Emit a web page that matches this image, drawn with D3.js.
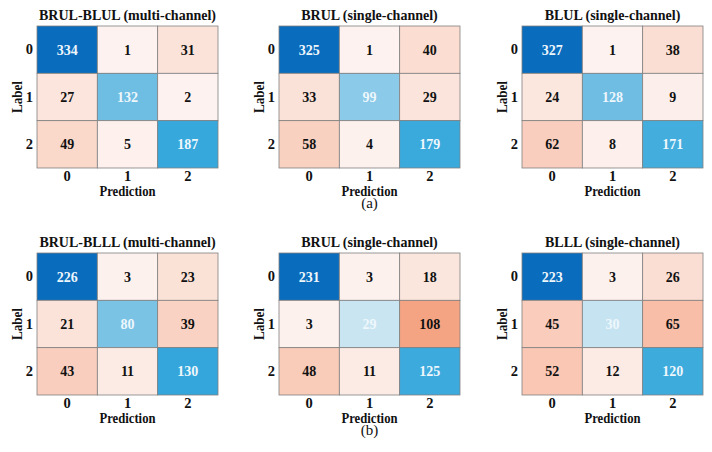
<!DOCTYPE html>
<html>
<head>
<meta charset="utf-8">
<script src="https://cdn.jsdelivr.net/npm/d3@7"></script>
<style>
  body { margin: 0; background: #fff; }
</style>
</head>
<body>
<svg id="chart" width="712" height="452"></svg>
<script>
// Data
var classes = ["0", "1", "2"];
var titles = [
  "BRUL-BLUL (multi-channel)", "BRUL (single-channel)", "BLUL (single-channel)",
  "BRUL-BLLL (multi-channel)", "BRUL (single-channel)", "BLLL (single-channel)"
];
var cm_brul_blul = [[334, 1, 31], [27, 132, 2], [49, 5, 187]];
var cm_brul_a   = [[325, 1, 40], [33, 99, 29], [58, 4, 179]];
var cm_blul     = [[327, 1, 38], [24, 128, 9], [62, 8, 171]];
var cm_brul_blll = [[226, 3, 23], [21, 80, 39], [43, 11, 130]];
var cm_brul_b   = [[231, 3, 18], [3, 29, 108], [48, 11, 125]];
var cm_blll     = [[223, 3, 26], [45, 30, 65], [52, 12, 120]];
var matrices = [cm_brul_blul, cm_brul_a, cm_blul, cm_brul_blll, cm_brul_b, cm_blll];
var rowCaptions = ["(a)", "(b)"];

const svg = d3.select("#chart");
const serif = '"Liberation Serif"';

// Layout
var lefts = [37, 279, 522];
var tops = [26, 253];
var gw = 181, gh = 142;

// colours: diagonal blue, off-diagonal red, by value / panel max
const blue = d3.scaleLinear()
  .domain([0, 0.13, 0.3, 0.4, 0.56, 1])
  .range(["#f3f9fc", "#c8e4f1", "#8ccbe8", "#6cbce2", "#37a8dc", "#0a6cbd"])
  .clamp(true);
const red = d3.scaleLinear()
  .domain([0, 0.1, 0.2, 0.47])
  .range(["#fdf3f1", "#fbe2d8", "#f9ccbb", "#f5a482"])
  .clamp(true);

function label(sel, size, bold) {
  return sel
    .attr("font-family", serif)
    .attr("font-size", size)
    .attr("font-weight", bold ? "bold" : "normal")
    .attr("fill", "#111");
}

matrices.forEach(function(m, k) {
  var col = k % 3, row = Math.floor(k / 3);
  var g = svg.append("g")
    .attr("transform", `translate(${lefts[col]},${tops[row]})`);

  var x = d3.scaleBand().domain(classes).range([0, gw]);
  var y = d3.scaleBand().domain(classes).range([0, gh]);
  var maxV = d3.max(m.flat());

  var cells = [];
  m.forEach(function(r, i) {
    r.forEach(function(v, j) {
      cells.push({ i: classes[i], j: classes[j], v: v, diag: i === j });
    });
  });

  g.selectAll("rect")
    .data(cells)
    .enter()
    .append("rect")
    .attr("x", d => x(d.j))
    .attr("y", d => y(d.i))
    .attr("width", x.bandwidth())
    .attr("height", y.bandwidth())
    .attr("fill", d => d.diag ? blue(d.v / maxV) : red(d.v / maxV))
    .attr("stroke", "#808080")
    .attr("stroke-width", 0.8);

  g.selectAll("text.val")
    .data(cells)
    .enter()
    .append("text")
    .attr("class", "val")
    .attr("x", d => x(d.j) + x.bandwidth() / 2)
    .attr("y", d => y(d.i) + y.bandwidth() / 2 + 5)
    .attr("text-anchor", "middle")
    .call(label, 14, true)
    .attr("fill", d => d.diag ? "#eef7fc" : "#111")
    .text(d => d.v);

  // axes
  var xAxis = g.append("g")
    .attr("transform", `translate(0,${gh})`)
    .call(d3.axisBottom(x).tickSize(0).tickPadding(3));
  var yAxis = g.append("g")
    .call(d3.axisLeft(y).tickSize(0).tickPadding(4));
  [xAxis, yAxis].forEach(function(a) {
    a.attr("font-family", serif).attr("font-size", 14);
    a.select(".domain").remove();
    a.selectAll("text").call(label, 14.5, true);
  });

  g.append("text")
    .attr("x", gw / 2)
    .attr("y", -6)
    .attr("text-anchor", "middle")
    .call(label, 14, true)
    .text(titles[k]);

  g.append("text")
    .attr("x", gw / 2)
    .attr("y", gh + 28)
    .attr("text-anchor", "middle")
    .call(label, 14.5, true)
    .attr("textLength", 56)
    .attr("lengthAdjust", "spacingAndGlyphs")
    .text("Prediction");

  g.append("text")
    .attr("transform", `translate(-15,${gh / 2}) rotate(-90)`)
    .attr("text-anchor", "middle")
    .call(label, 14.5, true)
    .attr("textLength", 32)
    .attr("lengthAdjust", "spacingAndGlyphs")
    .text("Label");

  if (col === 1) {
    g.append("text")
      .attr("x", gw / 2)
      .attr("y", gh + 40)
      .attr("text-anchor", "middle")
      .call(label, 15, false)
      .text(rowCaptions[row]);
  }
});
</script>
</body>
</html>
